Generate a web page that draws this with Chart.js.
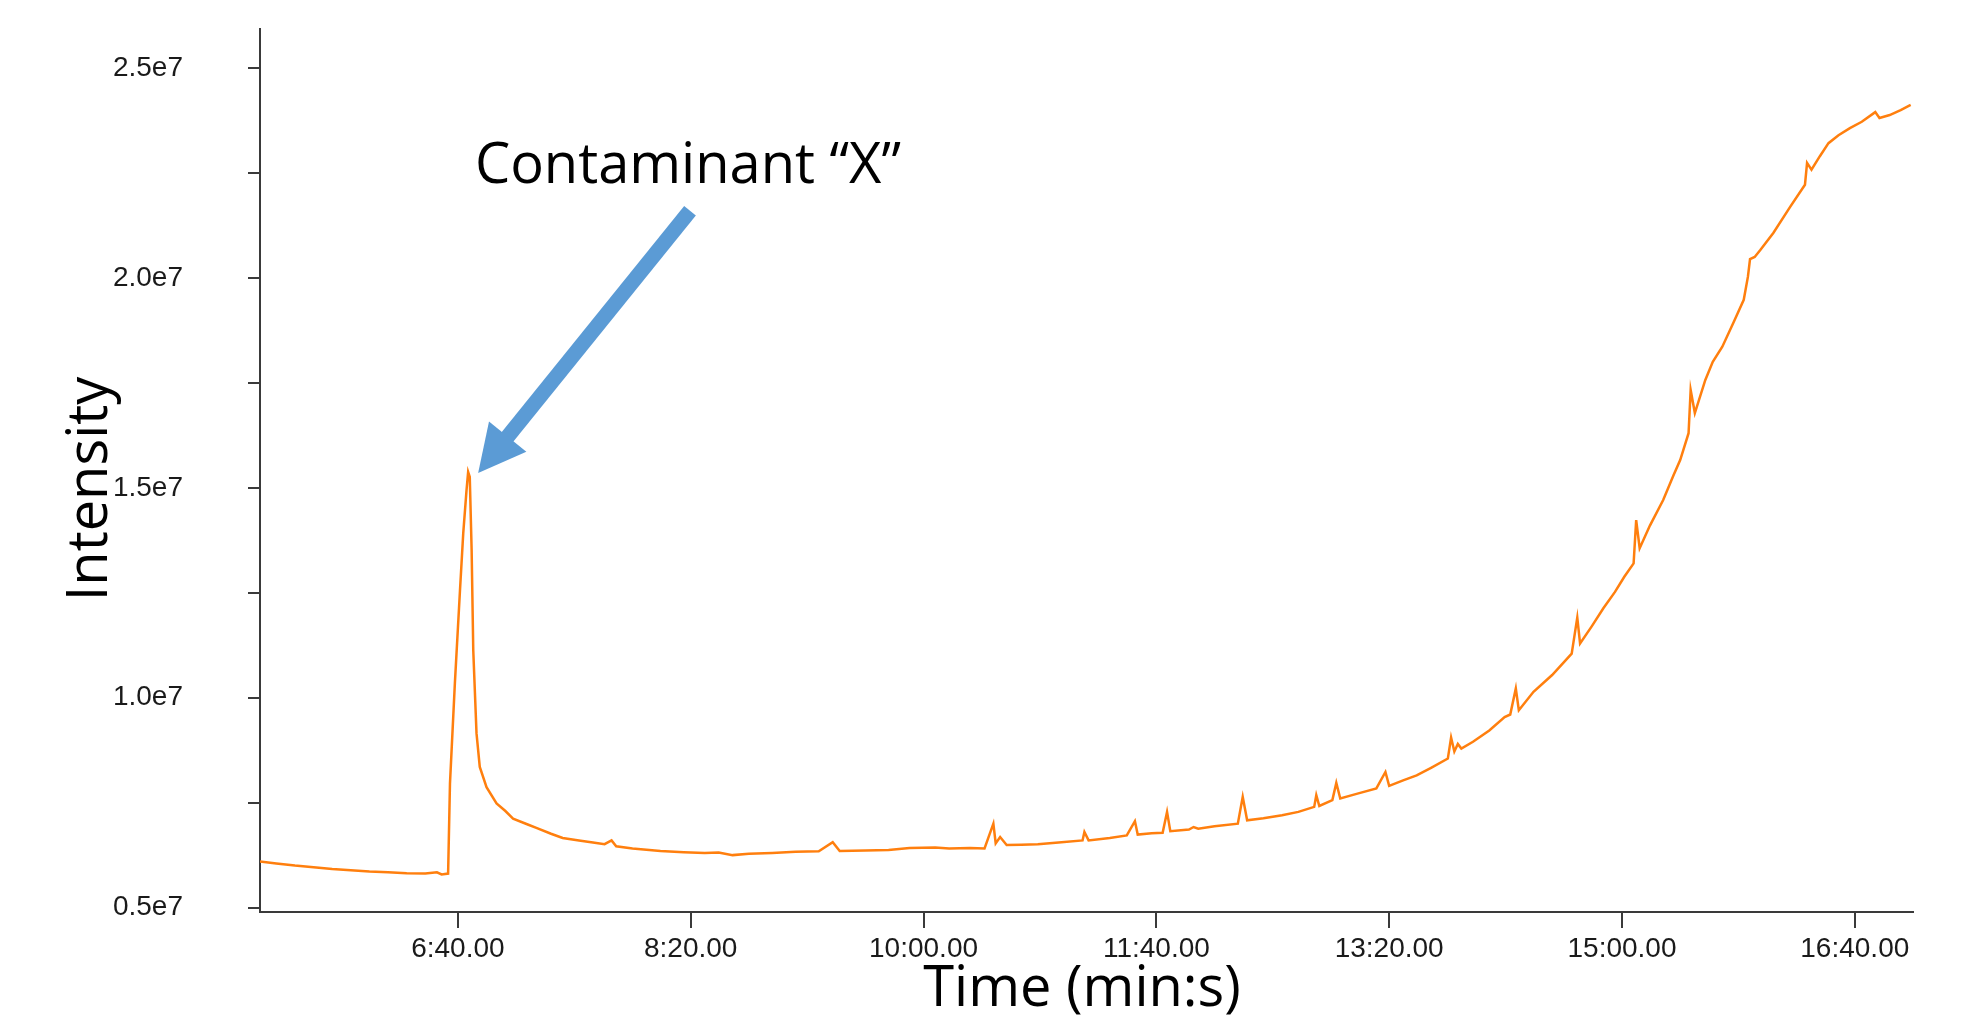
<!DOCTYPE html>
<html lang="en">
<head>
<meta charset="UTF-8" />
<title>Contaminant "X" - Intensity vs Time</title>
<script src="https://cdn.jsdelivr.net/npm/chart.js"></script>
<style>
  html, body { margin: 0; padding: 0; background: #ffffff; }
  #chart { display: block; }
</style>
</head>
<body>
<canvas id="chart" width="1967" height="1016"></canvas>
<script>
// retention time in seconds
const times = [
  315, 322, 330, 338, 346, 354, 362, 370, 378, 386, 391, 393, 395.8,
  396.6, 398.7, 400.9, 402.3, 403.7, 404.4, 405.1, 405.9, 406.6, 408.0, 409.4,
  412.3, 416.6, 420.4, 423.7, 430, 433.7, 440, 445, 452, 458, 463, 466, 468,
  475, 487, 497, 506, 512, 518, 525, 535, 545, 555, 561, 564, 575, 585, 594,
  605, 611, 620, 626.2, 630, 631, 632.9, 635.7, 642, 649.1, 658, 668.3, 669.1, 670.9, 680,
  687.3, 690.8, 692, 698, 702.7, 704.6, 706, 714, 716, 718, 725, 735, 737.1, 739,
  746, 754, 761, 767.8, 768.7, 770, 775.6, 777.3, 779, 786, 794.5, 798.4, 800,
  806, 811.8, 818, 825.2, 826.6, 828, 829.5, 831, 836, 843, 849.6, 852, 854.4,
  855.7, 862, 870, 878.4, 880.8, 882, 887, 892, 897, 901, 905, 906.1, 907.6,
  912, 917.7, 922, 925, 928.6, 929.5, 931.3, 935.8, 939, 943.1, 948, 952.3,
  954.1, 955, 957, 959.5, 965, 972.3, 978.6, 979.5, 981.4, 985, 988.7, 993,
  997.9, 1003, 1008.8, 1010.6, 1015, 1019.7, 1024
];

// intensity (counts)
const intensity = [
  6.10e6, 6.05e6, 6.00e6, 5.96e6, 5.92e6, 5.89e6, 5.86e6, 5.84e6, 5.82e6, 5.81e6, 5.84e6, 5.79e6, 5.81e6,
  7.96e6, 1.034e7, 1.256e7, 1.392e7, 1.494e7, 1.538e7, 1.526e7, 1.352e7, 1.113e7, 9.15e6, 8.35e6,
  7.87e6, 7.48e6, 7.30e6, 7.12e6, 6.98e6, 6.90e6, 6.76e6, 6.66e6, 6.60e6, 6.55e6, 6.51e6, 6.60e6, 6.46e6,
  6.41e6, 6.35e6, 6.32e6, 6.30e6, 6.31e6, 6.25e6, 6.28e6, 6.30e6, 6.33e6, 6.34e6, 6.56e6, 6.35e6, 6.36e6, 6.37e6, 6.42e6,
  6.43e6, 6.41e6, 6.42e6, 6.41e6, 7.00e6, 6.53e6, 6.68e6, 6.49e6, 6.50e6, 6.51e6, 6.55e6, 6.60e6, 6.80e6, 6.60e6, 6.66e6,
  6.72e6, 7.06e6, 6.74e6, 6.77e6, 6.78e6, 7.28e6, 6.82e6, 6.86e6, 6.92e6, 6.88e6, 6.94e6, 7.00e6, 7.64e6, 7.08e6,
  7.13e6, 7.20e6, 7.28e6, 7.40e6, 7.68e6, 7.42e6, 7.56e6, 7.97e6, 7.60e6, 7.71e6, 7.84e6, 8.23e6, 7.90e6,
  8.03e6, 8.15e6, 8.33e6, 8.55e6, 9.05e6, 8.72e6, 8.90e6, 8.79e6, 8.95e6, 9.22e6, 9.54e6, 9.60e6, 1.022e7,
  9.70e6, 1.014e7, 1.054e7, 1.105e7, 1.191e7, 1.129e7, 1.170e7, 1.213e7, 1.252e7, 1.288e7, 1.320e7, 1.423e7, 1.356e7,
  1.410e7, 1.471e7, 1.528e7, 1.566e7, 1.630e7, 1.733e7, 1.678e7, 1.757e7, 1.800e7, 1.836e7, 1.895e7, 1.948e7,
  2.003e7, 2.045e7, 2.050e7, 2.067e7, 2.107e7, 2.170e7, 2.222e7, 2.274e7, 2.258e7, 2.290e7, 2.321e7, 2.340e7,
  2.357e7, 2.372e7, 2.395e7, 2.381e7, 2.388e7, 2.400e7, 2.412e7
];

const xTickValues = [400, 500, 600, 700, 800, 900, 1000];
const xTickLabels = ['6:40.00', '8:20.00', '10:00.00', '11:40.00', '13:20.00', '15:00.00', '16:40.00'];
const yTickValues = [0.5e7, 0.75e7, 1.0e7, 1.25e7, 1.5e7, 1.75e7, 2.0e7, 2.25e7, 2.5e7];
const yTickLabels = ['0.5e7', '', '1.0e7', '', '1.5e7', '', '2.0e7', '', '2.5e7'];

// callout: arrow from the label down to the peak (data coordinates)
const calloutText = 'Contaminant \u201CX\u201D';
const calloutTextAt = [407.3, 2.227e7];
const arrowTail = [499.7, 2.16e7];
const arrowTip = [408.7, 1.535e7];

const points = times.map((t, i) => ({ x: t, y: intensity[i] }));

const overlay = {
  id: 'overlay',
  afterDraw(chart) {
    const { ctx, scales: { x, y } } = chart;
    ctx.save();

    // axis titles
    ctx.fillStyle = '#000000';
    ctx.font = '56px "Open Sans"';
    ctx.textBaseline = 'alphabetic';
    ctx.textAlign = 'center';
    ctx.fillText('Time (min:s)', 1082, 1006);
    ctx.save();
    ctx.translate(107, 489);
    ctx.rotate(-Math.PI / 2);
    ctx.fillText('Intensity', 0, 0);
    ctx.restore();

    // callout label
    ctx.textAlign = 'left';
    ctx.fillText(calloutText, x.getPixelForValue(calloutTextAt[0]), y.getPixelForValue(calloutTextAt[1]));

    // arrow
    const tx = x.getPixelForValue(arrowTail[0]), ty = y.getPixelForValue(arrowTail[1]);
    const hx = x.getPixelForValue(arrowTip[0]), hy = y.getPixelForValue(arrowTip[1]);
    const ang = Math.atan2(hy - ty, hx - tx);
    const headLen = 47, headHalf = 24;
    const bx = hx - headLen * Math.cos(ang), by = hy - headLen * Math.sin(ang);
    ctx.strokeStyle = '#5b9bd5';
    ctx.fillStyle = '#5b9bd5';
    ctx.lineWidth = 15;
    ctx.lineCap = 'butt';
    ctx.beginPath();
    ctx.moveTo(tx, ty);
    ctx.lineTo(bx + 4 * Math.cos(ang), by + 4 * Math.sin(ang));
    ctx.stroke();
    ctx.beginPath();
    ctx.moveTo(hx, hy);
    ctx.lineTo(bx + headHalf * Math.sin(ang), by - headHalf * Math.cos(ang));
    ctx.lineTo(bx - headHalf * Math.sin(ang), by + headHalf * Math.cos(ang));
    ctx.closePath();
    ctx.fill();

    ctx.restore();
  }
};

new Chart(document.getElementById('chart'), {
  type: 'line',
  data: {
    datasets: [{
      data: points,
      borderColor: '#ff7f0e',
      borderWidth: 2.5,
      pointRadius: 0,
      tension: 0,
      fill: false
    }]
  },
  options: {
    responsive: false,
    animation: false,
    parsing: false,
    layout: { padding: { top: 29, right: 54, left: 0, bottom: 0 } },
    plugins: { legend: { display: false }, tooltip: { enabled: false } },
    scales: {
      x: {
        type: 'linear',
        min: 315,
        max: 1025,
        afterBuildTicks: (scale) => { scale.ticks = xTickValues.map(v => ({ value: v })); },
        afterFit: (scale) => {
          scale.height = 104;
          scale.paddingLeft = 0;
          scale.paddingRight = 0;
        },
        ticks: {
          autoSkip: false,
          maxRotation: 0,
          padding: 4,
          color: '#1a1a1a',
          font: { family: '"Liberation Sans", Arial, sans-serif', size: 28 },
          callback: (value, index) => xTickLabels[index]
        },
        grid: { drawOnChartArea: false, drawTicks: true, tickLength: 16, color: '#3a3a3a', lineWidth: 2 },
        border: { display: true, color: '#3a3a3a', width: 2 }
      },
      y: {
        type: 'linear',
        min: 0.4895e7,
        max: 2.593e7,
        afterBuildTicks: (scale) => { scale.ticks = yTickValues.map(v => ({ value: v })); },
        afterFit: (scale) => {
          scale.width = 260;
          scale.paddingTop = 0;
          scale.paddingBottom = 0;
        },
        ticks: {
          autoSkip: false,
          padding: 65,
          color: '#1a1a1a',
          font: { family: '"Liberation Sans", Arial, sans-serif', size: 28 },
          callback: (value, index) => yTickLabels[index]
        },
        grid: { drawOnChartArea: false, drawTicks: true, tickLength: 12, color: '#3a3a3a', lineWidth: 2 },
        border: { display: true, color: '#3a3a3a', width: 2 }
      }
    }
  },
  plugins: [overlay]
});
</script>
</body>
</html>
